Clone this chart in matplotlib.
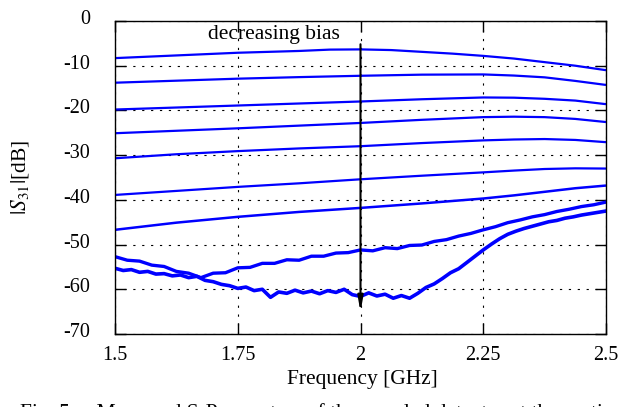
import numpy as np
import matplotlib
matplotlib.use("Agg")
import matplotlib.pyplot as plt
import matplotlib.transforms as mtransforms

plt.rcParams['font.family'] = ['Liberation Serif', 'DejaVu Serif']
plt.rcParams['mathtext.fontset'] = 'stix'
plt.rcParams['axes.unicode_minus'] = False

# ---- data ----
x_c1 = [1.5, 1.5625, 1.625, 1.6875, 1.75, 1.8125, 1.875, 1.9375, 2.0, 2.0625, 2.125, 2.1875, 2.25, 2.3125, 2.375, 2.4375, 2.5]
y_c1 = [-8.3, -8.0, -7.7, -7.4, -7.1, -6.9, -6.7, -6.4, -6.35, -6.5, -6.9, -7.3, -7.8, -8.4, -9.2, -10.0, -11.0]

x_c2 = [1.5, 1.625, 1.75, 1.875, 2.0, 2.125, 2.25, 2.3125, 2.375, 2.4375, 2.5]
y_c2 = [-13.8, -13.35, -12.9, -12.55, -12.25, -12.0, -11.95, -12.2, -12.6, -13.4, -14.3]

x_c3 = [1.5, 1.625, 1.75, 1.875, 2.0, 2.125, 2.25, 2.3125, 2.375, 2.4375, 2.5]
y_c3 = [-19.8, -19.35, -18.9, -18.45, -18.0, -17.5, -17.1, -17.15, -17.4, -17.8, -18.6]

x_c4 = [1.5, 1.625, 1.75, 1.875, 2.0, 2.125, 2.25, 2.3125, 2.375, 2.4375, 2.5]
y_c4 = [-25.1, -24.55, -24.0, -23.4, -22.8, -22.1, -21.5, -21.4, -21.5, -21.9, -22.6]

x_c5 = [1.5, 1.625, 1.75, 1.875, 2.0, 2.125, 2.25, 2.3125, 2.375, 2.4375, 2.5]
y_c5 = [-30.7, -29.8, -29.1, -28.5, -28.0, -27.3, -26.7, -26.5, -26.4, -26.6, -27.1]

x_c6 = [1.5, 1.625, 1.75, 1.875, 2.0, 2.125, 2.25, 2.3125, 2.375, 2.4375, 2.5]
y_c6 = [-38.9, -38.0, -37.1, -36.3, -35.4, -34.6, -33.85, -33.45, -33.1, -32.95, -33.0]

x_c7 = [1.5, 1.625, 1.75, 1.875, 2.0, 2.125, 2.25, 2.3125, 2.375, 2.4375, 2.5]
y_c7 = [-46.7, -45.1, -43.8, -42.7, -41.8, -40.8, -39.7, -39.0, -38.2, -37.4, -36.8]

x_c8 = [1.5, 1.525, 1.55, 1.575, 1.6, 1.625, 1.65, 1.675, 1.7, 1.725, 1.75, 1.775, 1.8, 1.825,
        1.85, 1.875, 1.9, 1.925, 1.95, 1.975, 2.0, 2.025, 2.05, 2.075, 2.1, 2.125, 2.15, 2.175,
        2.2, 2.225, 2.25, 2.275, 2.3, 2.325, 2.35, 2.375, 2.4, 2.425, 2.45, 2.475, 2.5]
y_c8 = [-52.7, -53.5, -53.7, -54.6, -54.9, -56.0, -56.4, -57.4, -56.4, -56.3, -55.2, -55.1, -54.2, -54.2,
        -53.4, -53.5, -52.6, -52.6, -51.9, -51.8, -51.2, -51.4, -50.7, -50.9, -50.2, -50.1, -49.3, -48.9,
        -48.1, -47.5, -46.7, -46.0, -45.1, -44.5, -43.8, -43.3, -42.6, -42.1, -41.5, -41.1, -40.5]

x_c9 = [1.5, 1.5167, 1.5333, 1.55, 1.5667, 1.5833, 1.6, 1.6167, 1.6333, 1.65, 1.6667, 1.6833, 1.7,
        1.7167, 1.7333, 1.75, 1.7667, 1.7833, 1.8, 1.8167, 1.8333, 1.85, 1.8667, 1.8833, 1.9, 1.9167,
        1.9333, 1.95, 1.9667, 1.9833, 2.0, 2.0167, 2.0333, 2.05, 2.0667, 2.0833, 2.1, 2.1167, 2.1333,
        2.15, 2.1667, 2.1833, 2.2, 2.2167, 2.2333, 2.25, 2.2667, 2.2833, 2.3, 2.3167, 2.3333, 2.35,
        2.3667, 2.3833, 2.4, 2.4167, 2.4333, 2.45, 2.4667, 2.4833, 2.5]
y_c9 = [-55.3, -55.8, -55.6, -56.2, -56.0, -56.6, -56.5, -57.0, -56.8, -57.4, -57.1, -58.0, -58.3,
        -58.9, -59.2, -59.8, -59.5, -60.3, -60.0, -61.8, -60.6, -60.9, -60.2, -60.8, -60.4, -61.0,
        -60.3, -60.7, -60.0, -61.2, -61.6, -60.8, -61.5, -61.1, -62.0, -61.4, -62.0, -60.9, -59.6,
        -58.8, -57.6, -56.3, -55.4, -54.0, -52.6, -51.2, -49.9, -48.7, -47.7, -47.0, -46.4, -45.9,
        -45.4, -44.9, -44.6, -44.1, -43.8, -43.4, -43.1, -42.8, -42.5]

x_ticks = [1.5, 1.75, 2.0, 2.25, 2.5]
x_ticklabels = ['1.5', '1.75', '2', '2.25', '2.5']
y_ticks = [0, -10, -20, -30, -40, -50, -60, -70]
y_ticklabels = ['0', '-10', '-20', '-30', '-40', '-50', '-60', '-70']

arrow_from = (2.0, -5.2)
arrow_to = (2.0, -65.1)

# ---- figure ----
W, H = 623, 407
fig = plt.figure(figsize=(W / 100, H / 100), dpi=100)
ax = fig.add_axes([115 / W, (H - 334) / H, 491 / W, 313 / H])

blue = '#0000ff'
smooth = [(x_c1, y_c1), (x_c2, y_c2), (x_c3, y_c3), (x_c4, y_c4),
          (x_c5, y_c5), (x_c6, y_c6)]
for xs, ys in smooth:
    ax.plot(xs, ys, color=blue, lw=1.6, zorder=3, solid_capstyle='butt')
ax.plot(x_c7, y_c7, color=blue, lw=1.8, zorder=3, solid_capstyle='butt')
ax.plot(x_c8, y_c8, color=blue, lw=2.4, zorder=3, solid_joinstyle='round')
ax.plot(x_c9, y_c9, color=blue, lw=2.6, zorder=3, solid_joinstyle='round')

ax.set_xlim(1.5, 2.5)
ax.set_ylim(-70, 0)
ax.set_xticks(x_ticks)
ax.set_xticklabels(x_ticklabels)
ax.set_yticks(y_ticks)
ax.set_yticklabels(y_ticklabels)

ax.tick_params(direction='in', length=8, width=1, top=True, right=True,
               labelsize=14.5, colors='black')
ax.tick_params(axis='x', pad=9)
ax.tick_params(axis='y', pad=18)

off = mtransforms.ScaledTranslation(0, 4 / 100, fig.dpi_scale_trans)
for lab in ax.get_yticklabels():
    lab.set_transform(lab.get_transform() + off)

ax.grid(True, color='black', linestyle=(0, (2, 6)), linewidth=0.8, zorder=1)
ax.set_axisbelow(True)
for s in ax.spines.values():
    s.set_linewidth(1.0)
    s.set_zorder(5)

ax.annotate('', xy=arrow_to, xytext=arrow_from,
            arrowprops=dict(arrowstyle='-|>,head_length=0.9,head_width=0.16',
                            color='black', lw=1.5, shrinkA=0, shrinkB=0),
            zorder=6)
ax.text(1.8238, -4.09, 'decreasing bias', ha='center', va='baseline', fontsize=15.5, zorder=6)

fig.text(362 / W, 1 - 384 / H, 'Frequency [GHz]', ha='center', va='baseline', fontsize=15.5)
fig.text(20 / W, 1 - 177 / H, r'$|S_{31}|$[dB]', ha='center', va='center',
         rotation=90, fontsize=15.5)
fig.text(20 / W, -11 / H, 'Fig. 5.    Measured S-Parameters of the coupled detector at the section',
         ha='left', va='baseline', fontsize=15.5)

fig.savefig('out.png', dpi=100)
